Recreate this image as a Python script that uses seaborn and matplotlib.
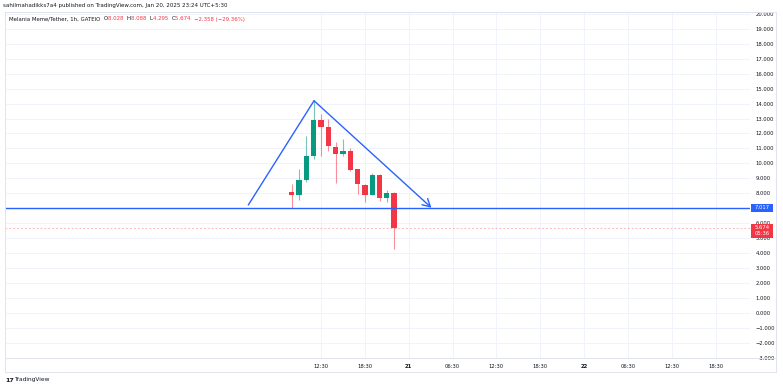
import numpy as np
import pandas as pd
import seaborn as sns
import matplotlib.pyplot as plt
from matplotlib.patches import Rectangle
from matplotlib.lines import Line2D

# -----------------------------------------------------------------------------
# Data (hours counted from Jan 20 00:30 IST)
# -----------------------------------------------------------------------------
hours = [8, 9, 10, 11, 12, 13, 14, 15, 16, 17, 18, 19, 20, 21, 22]
opens = [8.08, 7.87, 8.87, 10.50, 12.90, 12.45, 11.10, 10.60, 10.85, 9.60, 8.55, 7.90, 9.22, 7.67, 8.028]
highs = [8.65, 9.60, 11.85, 14.20, 13.30, 12.95, 11.45, 11.65, 11.05, 9.65, 8.65, 9.32, 9.30, 8.20, 8.088]
lows = [7.03, 7.55, 8.75, 10.30, 10.50, 10.80, 8.70, 10.50, 9.50, 7.98, 7.40, 7.86, 7.48, 7.41, 4.295]
closes = [7.87, 8.89, 10.50, 12.90, 12.40, 11.13, 10.60, 10.83, 9.57, 8.60, 7.90, 9.22, 7.67, 8.03, 5.674]

# triangle drawing
tri_x = [2.05, 11.04, 27.1]
tri_y = [7.21, 14.19, 7.03]
support = 7.017
last_price = 5.674

xtick_pos = [12, 18, 24, 30, 36, 42, 48, 54, 60, 66]
xtick_labels = ["12:30", "18:30", "21", "06:30", "12:30", "18:30", "22", "06:30", "12:30", "18:30"]
ytick_vals = list(range(-3, 21))

df = pd.DataFrame({"hour": hours, "open": opens, "high": highs, "low": lows, "close": closes})
df["up"] = df["close"] >= df["open"]

# -----------------------------------------------------------------------------
# Plotting attributes
# -----------------------------------------------------------------------------
sns.set_theme(style="white")
plt.rcParams["font.family"] = ["DejaVu Sans"]

green = "#089981"
red = "#f23645"
blue = "#2962ff"
txt = "#131722"
grid_c = "#f0f3fa"
frame_c = "#e0e3eb"

W, H = 783, 388
fig = plt.figure(figsize=(W / 100, H / 100), dpi=100)
fig.patch.set_facecolor("white")

# plot area in pixels
px_l, px_r, px_t, px_b = 5, 750, 12, 358
ax = fig.add_axes([px_l / W, 1 - px_b / H, (px_r - px_l) / W, (px_b - px_t) / H])
ax.set_facecolor("white")

# grid
for v in ytick_vals:
    ax.axhline(v, color=grid_c, lw=0.7, zorder=0)
for xp in xtick_pos:
    ax.axvline(xp, color=grid_c, lw=0.7, zorder=0)

# candles
colors = np.where(df["up"], green, red)
ax.vlines(df["hour"], df["low"], df["high"], colors=colors, lw=0.8, alpha=0.55, zorder=2)
body_bottom = df[["open", "close"]].min(axis=1)
body_height = (df["close"] - df["open"]).abs()
ax.bar(df["hour"], body_height, bottom=body_bottom, width=0.72, color=colors, linewidth=0, zorder=3)

# drawings
ax.axhline(support, color=blue, lw=1.0, zorder=4)
ax.axhline(last_price, color=red, lw=0.7, ls=(0, (2, 2)), alpha=0.35, zorder=1)
ax.plot(tri_x[:2], tri_y[:2], color=blue, lw=1.0, zorder=4)
ax.annotate("", xy=(tri_x[2], tri_y[2]), xytext=(tri_x[1], tri_y[1]),
            arrowprops=dict(arrowstyle="->,head_length=0.45,head_width=0.25", color=blue, lw=1.0,
                            shrinkA=0, shrinkB=0), zorder=4)

ax.set_xlim(-31.23, 70.68)
ax.set_ylim(-3.03, 20.13)

ax.yaxis.tick_right()
ax.set_yticks(ytick_vals)
ax.set_yticklabels(["{:.3f}".format(v).replace("-", "\u2212") for v in ytick_vals])
ax.set_xticks(xtick_pos)
ax.set_xticklabels(xtick_labels)
for lab in ax.get_xticklabels():
    if lab.get_text() in ("21", "22"):
        lab.set_fontweight("bold")
ax.tick_params(axis="y", length=0, pad=4, labelsize=3.8, labelcolor=txt)
ax.tick_params(axis="x", length=0, pad=4, labelsize=3.8, labelcolor=txt)
for s in ax.spines.values():
    s.set_visible(False)

# frame lines
fig.add_artist(Line2D([px_l / W, 776 / W], [1 - px_b / H] * 2, color=frame_c, lw=0.7))
fig.add_artist(Rectangle((px_l / W, 1 - 372 / H), (776 - px_l) / W, (372 - px_t) / H,
                         fill=False, edgecolor=frame_c, lw=0.7, transform=fig.transFigure))

# price labels on axis
def tag_y(val):
    return ax.transData.transform((0, val))[1] / fig.dpi / (H / 100)

yb = tag_y(support)
fig.add_artist(Rectangle((751 / W, yb - 4 / H), 22 / W, 8 / H, facecolor=blue, edgecolor="none",
                         transform=fig.transFigure, zorder=5))
fig.text(762 / W, yb, "7.017", color="white", fontsize=3.8, ha="center", va="center", zorder=6)

yr = tag_y(last_price)
fig.add_artist(Rectangle((751 / W, yr - 10 / H), 22 / W, 14 / H, facecolor=red, edgecolor="none",
                         transform=fig.transFigure, zorder=5))
fig.text(762 / W, yr, "5.674", color="white", fontsize=3.8, ha="center", va="center", zorder=6)
fig.text(762 / W, yr - 6 / H, "05:36", color="white", fontsize=3.8, ha="center", va="center", zorder=6)

# header texts
fig.text(3 / W, 1 - 6 / H, "sahilmahadikks7a4 published on TradingView.com, Jan 20, 2025 23:24 UTC+5:30",
         fontsize=4.0, color=txt, va="center", ha="left")
parts = [("Melania Meme/Tether, 1h, GATEIO  ", txt), ("O", txt), ("8.028  ", red), ("H", txt),
         ("8.088  ", red), ("L", txt), ("4.295  ", red), ("C", txt), ("5.674  ", red),
         ("\u22122.358 (\u221229.36%)", red)]
renderer = fig.canvas.get_renderer()
xpos = 9 / W
for s, c in parts:
    t = fig.text(xpos, 1 - 19 / H, s, fontsize=3.9, color=c, va="center", ha="left")
    bb = t.get_window_extent(renderer=renderer)
    xpos += bb.width / W

# footer logo
fig.text(5 / W, 1 - 380 / H, "17", fontsize=4.5, fontweight="bold", color=txt, va="center", ha="left")
fig.text(14 / W, 1 - 380 / H, "TradingView", fontsize=4.2, color=txt, va="center", ha="left")

plt.savefig("out.png", dpi=100)
